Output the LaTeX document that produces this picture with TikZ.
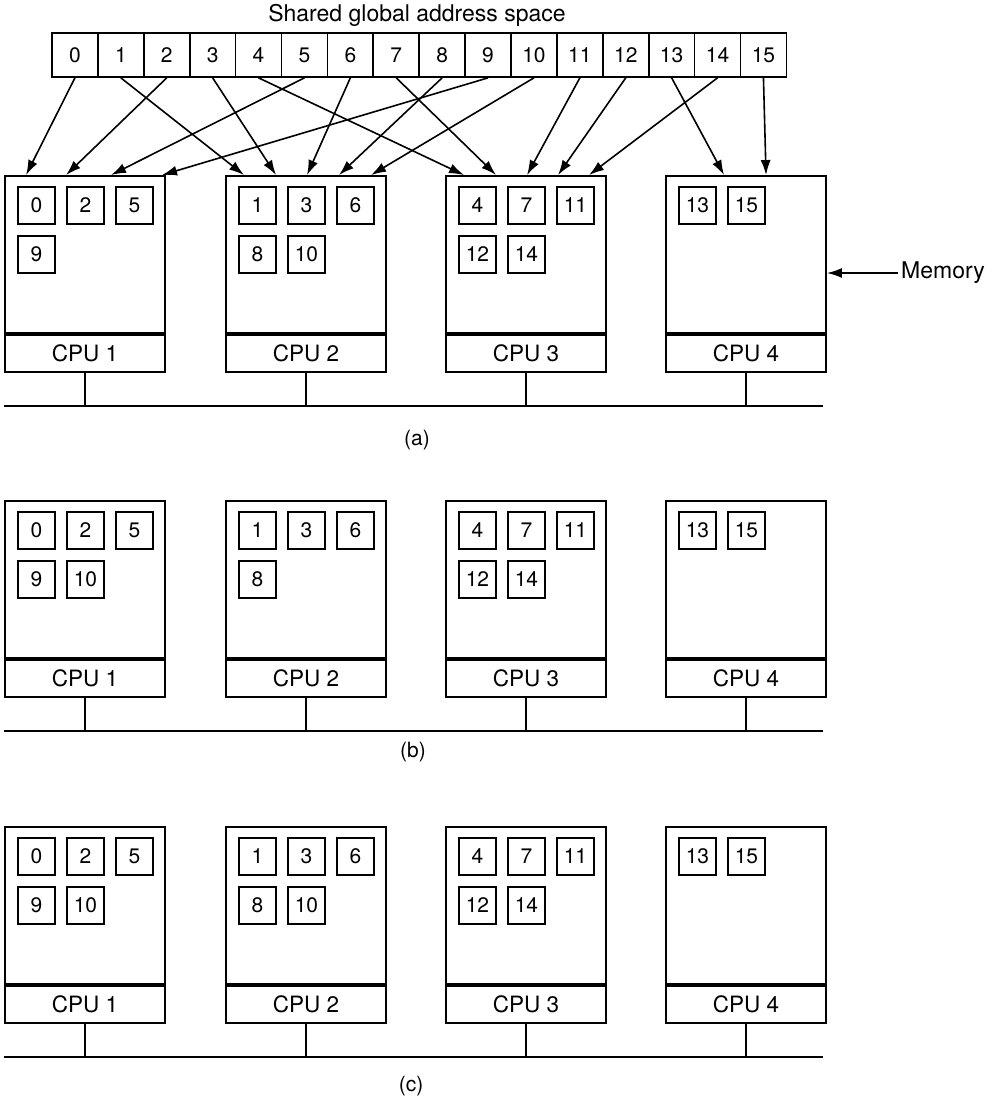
\documentclass[tikz,border=0pt]{standalone}
\usepackage{fontspec}
\setmainfont{TeX Gyre Heros}
\usetikzlibrary{arrows.meta,positioning,calc}

% place one row of pages in a memory box
\newcommand{\putpages}[3]{%
  \foreach \l [count=\j from 0] in {#3}
    \node[page,anchor=north west] (#1-\l) at ($(#1.north west)+({13+49*\j},{11+49*#2})$) {\l};}

\begin{document}
\begin{tikzpicture}[x=1pt,y=-1pt,>={Latex[length=15pt,width=10pt]},
  cell/.style={draw,line width=1.7pt,minimum width=45.9pt,minimum height=44pt,inner sep=0pt,font=\fontsize{21}{21}\selectfont},
  mem/.style={draw,line width=1.9pt,minimum width=160pt,minimum height=157pt,inner sep=0pt},
  cpu/.style={draw,line width=1.9pt,minimum width=160pt,minimum height=37pt,inner sep=0pt,font=\fontsize{22.5}{22.5}\selectfont},
  page/.style={draw,line width=1.8pt,minimum size=37pt,inner sep=0pt,font=\fontsize{21}{21}\selectfont},
  map/.style={->,line width=1.6pt},
  bus/.style={line width=1.9pt},
  lbl/.style={font=\fontsize{21}{21}\selectfont}]
\useasboundingbox (0,0) rectangle (997,1098);

% shared address space
\node[font=\fontsize{23}{23}\selectfont] (title) at (417,15) {Shared global address space};
\foreach \i in {0,...,15}
  \node[cell] (c\i) at ({74.95+45.9*\i},55) {\i};

% three configurations
\foreach \p/\dy in {a/0,b/325,c/651} {
  \coordinate (busl\p) at (4,{406+\dy});
  \coordinate (busr\p) at (823,{406+\dy});
  \draw[bus] (busl\p) -- (busr\p);
  \foreach \k/\x in {1/85,2/306,3/526,4/746} {
    \node[mem] (m\p\k) at (\x,{254.5+\dy}) {};
    \node[cpu,below=0pt of m\p\k] (u\p\k) {CPU \k};
    \draw[bus] (u\p\k.south) -- (u\p\k.south |- busl\p);
  }
  \putpages{m\p3}{0}{4,7,11}
  \putpages{m\p3}{1}{12,14}
  \putpages{m\p4}{0}{13,15}
}
\putpages{ma1}{0}{0,2,5}
\putpages{ma1}{1}{9}
\putpages{ma2}{0}{1,3,6}
\putpages{ma2}{1}{8,10}
\putpages{mb1}{0}{0,2,5}
\putpages{mb1}{1}{9,10}
\putpages{mb2}{0}{1,3,6}
\putpages{mb2}{1}{8}
\putpages{mc1}{0}{0,2,5}
\putpages{mc1}{1}{9,10}
\putpages{mc2}{0}{1,3,6}
\putpages{mc2}{1}{8,10}

% where each page lives
\foreach \s/\m/\d in {0/1/22,2/1/62,5/1/107,9/1/158,1/2/19,3/2/51,6/2/82,8/2/114,10/2/146,
    4/3/19,7/3/51,11/3/82,12/3/113,14/3/144,13/4/59,15/4/101}
  \draw[map] (c\s.south) -- ([xshift=\d pt]ma\m.north west);

\node[font=\fontsize{23}{23}\selectfont] (memlbl) at (943,273) {Memory};
\draw[map] (memlbl.west) -- ([yshift=-18.5pt]ma4.east);

\node[lbl] (capa) at (417,440) {(a)};
\node[lbl] (capb) at (413,752) {(b)};
\node[lbl] (capc) at (411,1086) {(c)};
\end{tikzpicture}
\end{document}
